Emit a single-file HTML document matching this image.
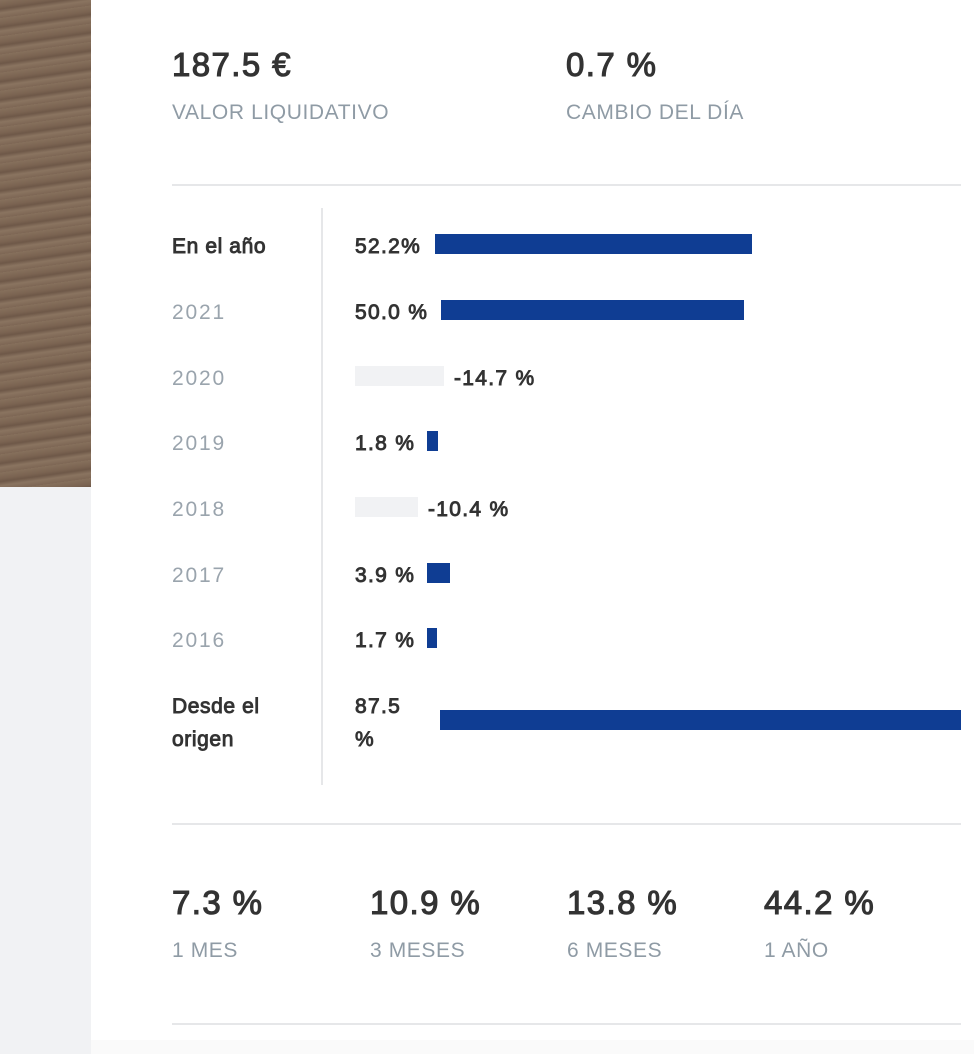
<!DOCTYPE html>
<html><head><meta charset="utf-8"><style>
*{margin:0;padding:0;box-sizing:border-box}
body{width:974px;height:1054px;position:relative;background:#fff;font-family:"Liberation Sans",Arial,sans-serif;overflow:hidden}
.a{position:absolute;white-space:nowrap;line-height:1}
.big{font-size:33px;font-weight:normal;-webkit-text-stroke:1.1px #333;color:#333;letter-spacing:1.4px}
.lab{font-size:21px;color:#8f9ba5;letter-spacing:0.6px}
.row{font-size:21px;color:#333;font-weight:normal;-webkit-text-stroke:0.9px #333;letter-spacing:0.6px}
.yr{font-size:21px;color:#9aa4ad;letter-spacing:1.8px}
.pc{font-size:21px;color:#333;font-weight:normal;-webkit-text-stroke:0.9px #333;letter-spacing:1.3px}
.bar{position:absolute;height:20px;background:#0f3d93}
.gb{position:absolute;height:20px;background:#f1f2f4}
.hl{position:absolute;left:172px;width:789px;height:2px;background:#e6e7e9}
</style></head><body>
<div style="position:absolute;left:0;top:0;width:91px;height:487px;background:repeating-linear-gradient(172deg,#86705c 0px,#7a6351 6px,#6e5848 9px,#8a7460 13px,#7d6654 18px)"></div>
<div style="position:absolute;left:0;top:487px;width:91px;height:567px;background:#f1f2f4"></div>
<div style="position:absolute;left:91px;top:1040px;width:883px;height:14px;background:#fafafa"></div>

<div class="a big" style="left:172px;top:48px">187.5 €</div>
<div class="a lab" style="left:172px;top:102px">VALOR LIQUIDATIVO</div>
<div class="a big" style="left:566px;top:48px">0.7 %</div>
<div class="a lab" style="left:566px;top:102px">CAMBIO DEL DÍA</div>
<div class="hl" style="top:184px"></div>

<div style="position:absolute;left:321px;top:208px;width:2px;height:577px;background:#e6e7e9"></div>

<div class="a row" style="left:172px;top:236px">En el año</div>
<div class="a pc" style="left:355px;top:236px">52.2%</div>
<div class="bar" style="left:435px;top:234px;width:317px"></div>

<div class="a yr" style="left:172px;top:302px">2021</div>
<div class="a pc" style="left:355px;top:302px">50.0 %</div>
<div class="bar" style="left:441px;top:300px;width:303px"></div>

<div class="a yr" style="left:172px;top:368px">2020</div>
<div class="gb" style="left:355px;top:366px;width:89px"></div>
<div class="a pc" style="left:454px;top:368px">-14.7 %</div>

<div class="a yr" style="left:172px;top:433px">2019</div>
<div class="a pc" style="left:355px;top:433px">1.8 %</div>
<div class="bar" style="left:427px;top:431px;width:11px"></div>

<div class="a yr" style="left:172px;top:499px">2018</div>
<div class="gb" style="left:355px;top:497px;width:63px"></div>
<div class="a pc" style="left:428px;top:499px">-10.4 %</div>

<div class="a yr" style="left:172px;top:565px">2017</div>
<div class="a pc" style="left:355px;top:565px">3.9 %</div>
<div class="bar" style="left:427px;top:563px;width:23px"></div>

<div class="a yr" style="left:172px;top:630px">2016</div>
<div class="a pc" style="left:355px;top:630px">1.7 %</div>
<div class="bar" style="left:427px;top:628px;width:10px"></div>

<div class="a row" style="left:172px;top:696px">Desde el</div>
<div class="a row" style="left:172px;top:729px">origen</div>
<div class="a pc" style="left:355px;top:696px">87.5</div>
<div class="a pc" style="left:355px;top:729px">%</div>
<div class="bar" style="left:440px;top:710px;width:521px"></div>

<div class="hl" style="top:823px"></div>

<div class="a big" style="left:172px;top:886px">7.3 %</div>
<div class="a lab" style="left:172px;top:940px">1 MES</div>
<div class="a big" style="left:370px;top:886px">10.9 %</div>
<div class="a lab" style="left:370px;top:940px">3 MESES</div>
<div class="a big" style="left:567px;top:886px">13.8 %</div>
<div class="a lab" style="left:567px;top:940px">6 MESES</div>
<div class="a big" style="left:764px;top:886px">44.2 %</div>
<div class="a lab" style="left:764px;top:940px">1 AÑO</div>

<div class="hl" style="top:1023px"></div>
</body></html>
